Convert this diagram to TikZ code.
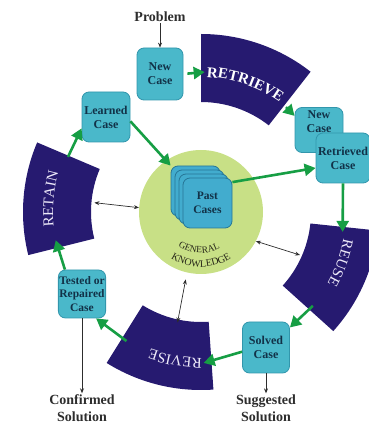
\documentclass[tikz,border=0pt]{standalone}
\usepackage{fontspec}
\setmainfont{Liberation Serif}
\usetikzlibrary{calc,arrows.meta,decorations.text}

\definecolor{bandblue}{RGB}{38,26,112}
\definecolor{caseteal}{RGB}{74,184,202}
\definecolor{caseedge}{RGB}{50,150,172}
\definecolor{pastfill}{RGB}{66,172,206}
\definecolor{pastedge}{RGB}{38,118,150}
\definecolor{gkgreen}{RGB}{200,224,134}
\definecolor{flowgreen}{RGB}{22,158,68}
\definecolor{casetext}{RGB}{18,50,72}
\definecolor{bandtext}{RGB}{238,234,250}
\definecolor{labelgray}{RGB}{45,45,45}
\definecolor{gktext}{RGB}{40,40,25}

\begin{document}
\begin{tikzpicture}[x=1pt,y=1pt,
  casebox/.style={draw=caseedge, fill=caseteal, rounded corners=7pt, line width=0.8pt,
    font=\fontsize{12}{14}\selectfont\bfseries, text=casetext, align=center, inner sep=1pt},
  pastbox/.style={draw=pastedge, fill=pastfill, rounded corners=7pt, line width=0.8pt,
    minimum width=49pt, minimum height=50pt},
  flow/.style={draw=flowgreen, line width=2.6pt, -{Triangle[length=11pt,width=12pt]}},
  link/.style={draw=labelgray, line width=0.7pt, {Stealth[length=5pt,width=4pt]}-{Stealth[length=5pt,width=4pt]}},
  feed/.style={draw=labelgray, line width=0.8pt, -{Stealth[length=5pt,width=4pt]}},
  outlabel/.style={font=\fontsize{14}{17}\selectfont\bfseries, text=labelgray, align=center, inner sep=1pt},
]
\useasboundingbox (0,0) rectangle (369,426);
\coordinate (C) at (201,214);

% the four process bands of the cycle
\begin{scope}
  \clip (0,0) rectangle (369,426);
  \foreach \a/\b in {52/90, -42/-6, -122/-86, 157/194}
    \fill[bandblue] ($(C)+(\a:110)$) arc[start angle=\a, end angle=\b, radius=110]
      -- ($(C)+(\b:178)$) arc[start angle=\b, end angle=\a, radius=178] -- cycle;
\end{scope}

% band titles, set along the ring
\path[decorate, decoration={text along path, text align=center,
  text={|\fontsize{15}{15}\selectfont\bfseries\color{white}|RETRIEVE}}]
  ($(C)+(90:135)$) arc[start angle=90, end angle=52, radius=135];
\path[decorate, decoration={text along path, text align=center,
  text={|\fontsize{15}{15}\selectfont\color{bandtext}|REUSE}}]
  ($(C)+(-4:145)$) arc[start angle=-4, end angle=-36, radius=145];
\path[decorate, decoration={text along path, text align=center,
  text={|\fontsize{15}{15}\selectfont\color{bandtext}|REVISE}}]
  ($(C)+(-84:146)$) arc[start angle=-84, end angle=-116, radius=146];
\path[decorate, decoration={text along path, text align=center,
  text={|\fontsize{15}{15}\selectfont\color{bandtext}|RETAIN}}]
  ($(C)+(194:148)$) arc[start angle=194, end angle=156, radius=148];

% general knowledge core
\node[circle, fill=gkgreen, minimum size=124pt, inner sep=0pt] (gk) at (C) {};
\path[decorate, decoration={text along path, text align=center,
  text={|\fontsize{9.5}{10}\selectfont\color{gktext}|GENERAL}}]
  ($(C)+(-152:41)$) arc[start angle=-152, end angle=-34, radius=41];
\path[decorate, decoration={text along path, text align=center,
  text={|\fontsize{10}{10}\selectfont\color{gktext}|KNOWLEDGE}}]
  ($(C)+(-150:55)$) arc[start angle=-150, end angle=-30, radius=55];

% stack of past cases
\foreach \k in {3,2,1}
  \node[pastbox] (past\k) at ($(207.5,223)+(-4*\k,4*\k)$) {};
\node[pastbox, font=\fontsize{11.5}{13.5}\selectfont\bfseries, text=casetext, align=center]
  (past) at (207.5,223) {Past\\Cases};

% case boxes
\node[casebox, minimum width=46pt, minimum height=52pt] (newcase) at (160,352) {New\\Case};
\node[casebox, minimum width=48pt, minimum height=50pt] (learned) at (106,309) {Learned\\Case};
\node[casebox, minimum width=48pt, minimum height=45pt] (newcase2) at (319,296) {};
\node[font=\fontsize{12}{14}\selectfont\bfseries, text=casetext, align=center]
  (newcase2txt) at (319,304) {New\\Case};
\node[casebox, minimum width=54pt, minimum height=50pt] (retrieved) at (343,268) {Retrieved\\Case};
\node[casebox, minimum width=47pt, minimum height=48pt,
  font=\fontsize{11.5}{13.5}\selectfont\bfseries] (tested) at (82,132) {Tested or\\Repaired\\Case};
\node[casebox, minimum width=47pt, minimum height=51pt] (solved) at (266,78.5) {Solved\\Case};

% outer labels
\node[outlabel] (problem) at (160,409) {Problem};
\node[outlabel] (confirmed) at (82,18) {Confirmed\\Solution};
\node[outlabel] (suggested) at (266,18) {Suggested\\Solution};

% anchor points on the bands
\coordinate (retrieveIn) at ($(C)+(88.5:140)$);
\coordinate (retrieveOut) at ($(C)+(51:135)$);
\coordinate (reuseIn) at ($(C)+(-8:143)$);
\coordinate (reuseOut) at ($(C)+(-40:146)$);
\coordinate (reviseIn) at ($(C)+(-89:151)$);
\coordinate (reviseOut) at ($(C)+(-120:149)$);
\coordinate (retainIn) at ($(C)+(191:148)$);
\coordinate (retainOut) at ($(C)+(157.5:144)$);
\coordinate (retainEdge) at ($(C)+(175:107)$);
\coordinate (reuseEdge) at ($(C)+(-23.5:108)$);
\coordinate (reviseEdge) at ($(C)+(-102:113)$);

% cycle flow
\draw[flow, shorten <=4pt] (newcase.east) -- (retrieveIn);
\draw[flow] (retrieveOut) -- (newcase2.150);
\draw[flow] (retrieved.south) -- (reuseIn);
\draw[flow] (reuseOut) -- (solved.40);
\draw[flow] (solved.190) -- (reviseIn);
\draw[flow] (reviseOut) -- (tested.-60);
\draw[flow] (tested.125) -- (retainIn);
\draw[flow] (retainOut) -- (learned.205);
\draw[flow] (learned.-10) -- (past3.north west);
\draw[flow] (past.40) -- (retrieved.200);

% exchanges with general knowledge
\draw[link] (retainEdge) -- (gk.176);
\draw[link] (gk.-28) -- (reuseEdge);
\draw[link, shorten >=7pt] (reviseEdge) -- (gk.-103);

% inputs and outputs
\draw[feed] (problem.south) -- (newcase.north);
\draw[feed] (tested.south) -- (confirmed.north);
\draw[feed] (solved.south) -- (suggested.north);
\end{tikzpicture}
\end{document}
